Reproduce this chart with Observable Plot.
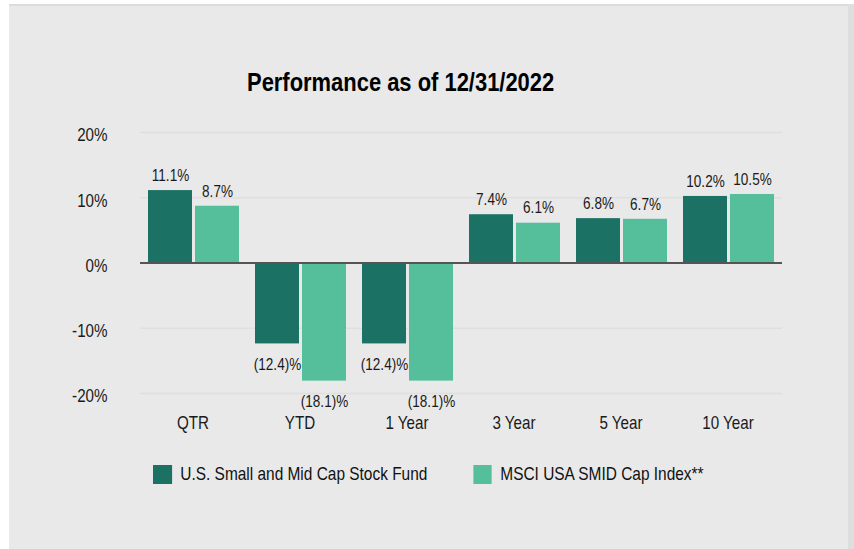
<!DOCTYPE html>
<html>
<head>
<meta charset="utf-8">
<script src="https://cdn.jsdelivr.net/npm/d3@7"></script>
<script src="https://cdn.jsdelivr.net/npm/@observablehq/plot@0.6"></script>
<style>
  html, body { margin: 0; padding: 0; background: #ffffff; }
  body { width: 854px; height: 549px; position: relative; overflow: hidden;
         font-family: "Liberation Sans", Arial, sans-serif; }
  #panel { position: absolute; left: 9px; top: 4px; width: 839px; height: 545px;
           background: #e9e9e9; border-top: 2px solid #dcdcdc; box-sizing: border-box; }
  #edge { position: absolute; left: 848px; top: 4px; width: 6px; height: 545px; background: #dedede; }
  #titlewrap { position: absolute; left: 0; top: 70px; width: 802px; text-align: center; }
  #title { display: inline-block; transform: scaleX(0.86); transform-origin: center;
           font-weight: bold; font-size: 25.5px; line-height: 25px; color: #000; white-space: nowrap; }
  #chart { position: absolute; left: 0; top: 100px; }
  #legend { position: absolute; left: 153px; top: 463px; display: flex; align-items: center;
            font-size: 18.6px; color: #111; transform: scaleX(0.83); transform-origin: left center;
            white-space: nowrap; }
  .item { display: flex; align-items: center; }
  .sw { width: 22.9px; height: 19px; margin-right: 10px; }
</style>
</head>
<body>
<div id="panel"></div>
<div id="edge"></div>
<div id="titlewrap"><span id="title">Performance as of 12/31/2022</span></div>
<div id="chart"></div>
<div id="legend"></div>
<script>
const categories = ["QTR", "YTD", "1 Year", "3 Year", "5 Year", "10 Year"];
const seriesNames = ["U.S. Small and Mid Cap Stock Fund", "MSCI USA SMID Cap Index**"];
const fundValues = [11.1, -12.4, -12.4, 7.4, 6.8, 10.2];
const indexValues = [8.7, -18.1, -18.1, 6.1, 6.7, 10.5];
const yTicks = [-20, -10, 0, 10, 20];
const colors = ["#1c7165", "#55bf9b"];

const data = [];
categories.forEach((c, i) => {
  data.push({cat: c, series: seriesNames[0], value: fundValues[i]});
  data.push({cat: c, series: seriesNames[1], value: indexValues[i]});
});
const fmt = d => d.value < 0 ? `(${Math.abs(d.value).toFixed(1)})%` : `${d.value.toFixed(1)}%`;
const font = '"Liberation Sans", Arial, sans-serif';

const chart = Plot.plot({
  width: 854,
  height: 340,
  marginLeft: 138,
  marginRight: 71,
  marginTop: 32,
  marginBottom: 47,
  style: {background: "transparent", fontFamily: font, color: "#1a1a1a"},
  fx: {domain: categories, padding: 0, label: null},
  x: {domain: seriesNames, axis: null, paddingInner: 0.0625, paddingOuter: 0.16},
  y: {domain: [-20, 20], label: null},
  color: {domain: seriesNames, range: colors},
  marks: [
    Plot.ruleY(yTicks.filter(t => t !== 0), {stroke: "#dfdfdf", strokeWidth: 1.5}),
    Plot.barY(data, {fx: "cat", x: "series", y: "value", fill: "series"}),
    Plot.ruleY([0], {stroke: "#555555", strokeWidth: 2}),
    Plot.text(data.filter(d => d.value >= 0), {fx: "cat", x: "series", y: "value", text: fmt,
      dy: -15, fontSize: 16.5, fill: "#1a1a1a"}),
    Plot.text(data.filter(d => d.value < 0), {fx: "cat", x: "series", y: "value", text: fmt,
      dy: 21, fontSize: 16.5, fill: "#1a1a1a"}),
    Plot.axisY({ticks: yTicks, tickFormat: d => `${d}%`, tickSize: 0, tickPadding: 33,
      fontSize: 18.5, dy: 3, label: null}),
    Plot.axisFx({anchor: "bottom", tickSize: 0, tickPadding: 22, fontSize: 18.5, label: null, dx: -1})
  ]
});
document.getElementById("chart").appendChild(chart);

// emulate a narrow (condensed) typeface by compressing each text horizontally
chart.querySelectorAll("text").forEach(t => {
  const len = t.getComputedTextLength();
  if (len > 0) {
    t.setAttribute("textLength", (len * 0.82).toFixed(2));
    t.setAttribute("lengthAdjust", "spacingAndGlyphs");
  }
});

const legend = document.getElementById("legend");
seriesNames.forEach((name, i) => {
  const item = document.createElement("div");
  item.className = "item";
  if (i > 0) item.style.marginLeft = "55px";
  const sw = document.createElement("div");
  sw.className = "sw";
  sw.style.background = colors[i];
  const label = document.createElement("span");
  label.textContent = name;
  item.appendChild(sw);
  item.appendChild(label);
  legend.appendChild(item);
});
</script>
</body>
</html>
